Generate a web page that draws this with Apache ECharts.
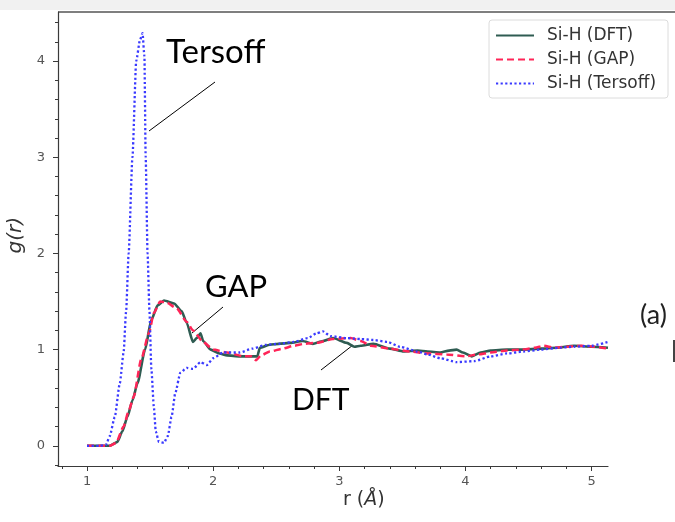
<!DOCTYPE html>
<html>
<head>
    <meta charset="UTF-8">
    <title>Si-H g(r)</title>
    <script src="https://cdn.jsdelivr.net/npm/echarts@6/dist/echarts.min.js"></script>
    <style>
        html, body { margin: 0; padding: 0; background: #fff; }
    </style>
</head>
<body>
    <div id="gr" style="width:675px; height:522px;"></div>
    <script>
        // values
        var rDft = [1.0, 1.1, 1.18, 1.24, 1.28, 1.32, 1.36, 1.40, 1.46, 1.51, 1.56, 1.61, 1.69, 1.75, 1.79, 1.84, 1.87, 1.90, 1.92, 1.98,
            2.05, 2.11, 2.21, 2.35, 2.37, 2.45, 2.52, 2.61, 2.71, 2.79, 2.87, 2.95, 3.06, 3.12, 3.17, 3.27, 3.40, 3.51, 3.62, 3.70,
            3.80, 3.87, 3.93, 3.98, 4.05, 4.12, 4.20, 4.33, 4.45, 4.60, 4.72, 4.86, 5.00, 5.13];
        var gDft = [0, 0, 0, 0.04, 0.15, 0.30, 0.47, 0.65, 1.00, 1.31, 1.46, 1.51, 1.48, 1.40, 1.28, 1.08, 1.12, 1.17, 1.09, 1.00,
            0.96, 0.94, 0.93, 0.93, 1.02, 1.05, 1.06, 1.07, 1.09, 1.06, 1.09, 1.12, 1.07, 1.03, 1.04, 1.06, 1.01, 0.98, 0.99, 0.98,
            0.97, 0.99, 1.00, 0.97, 0.93, 0.97, 0.99, 1.00, 1.00, 1.01, 1.02, 1.04, 1.03, 1.02];

        var rGap = [1.0, 1.1, 1.18, 1.23, 1.29, 1.33, 1.37, 1.43, 1.49, 1.53, 1.58, 1.63, 1.71, 1.79, 1.84, 1.92, 2.00, 2.11, 2.24, 2.30,
            2.34, 2.38, 2.45, 2.55, 2.64, 2.72, 2.82, 2.95, 3.09, 3.17, 3.25, 3.40, 3.56, 3.70, 3.85, 4.00, 4.10, 4.20, 4.33, 4.45,
            4.55, 4.62, 4.70, 4.80, 4.92, 5.02, 5.13];
        var gGap = [0, 0, 0, 0.03, 0.20, 0.36, 0.51, 0.90, 1.17, 1.38, 1.50, 1.49, 1.43, 1.29, 1.20, 1.08, 1.00, 0.97, 0.93, 0.93,
            0.89, 0.94, 0.98, 1.01, 1.04, 1.06, 1.07, 1.11, 1.12, 1.09, 1.04, 1.01, 0.98, 0.96, 0.95, 0.93, 0.95, 0.97, 0.99, 1.00,
            1.02, 1.04, 1.02, 1.03, 1.04, 1.03, 1.01];

        var rTersoff = [1.0, 1.1, 1.15, 1.18, 1.22, 1.26, 1.29, 1.31, 1.33, 1.36, 1.39, 1.42, 1.44, 1.455, 1.465, 1.48, 1.495, 1.51, 1.53, 1.545,
            1.57, 1.61, 1.64, 1.67, 1.70, 1.74, 1.79, 1.84, 1.90, 1.95, 2.00, 2.08, 2.21, 2.31, 2.42, 2.52, 2.64, 2.75, 2.82, 2.87,
            2.93, 3.06, 3.17, 3.27, 3.38, 3.48, 3.62, 3.70, 3.80, 3.93, 4.07, 4.20, 4.33, 4.46, 4.60, 4.75, 4.86, 5.00, 5.13];
        var gTersoff = [0, 0, 0.01, 0.10, 0.30, 0.65, 0.97, 1.40, 2.00, 3.00, 4.00, 4.22, 4.29, 4.05, 3.00, 2.00, 1.40, 0.80, 0.40, 0.15,
            0.04, 0.03, 0.10, 0.30, 0.55, 0.76, 0.81, 0.80, 0.87, 0.84, 0.91, 0.97, 0.97, 1.01, 1.05, 1.06, 1.08, 1.12, 1.17, 1.19,
            1.14, 1.12, 1.11, 1.10, 1.08, 1.03, 0.98, 0.95, 0.91, 0.87, 0.88, 0.93, 0.96, 0.98, 1.00, 1.02, 1.03, 1.04, 1.08];

        var xMajor = [1, 2, 3, 4, 5];
        var xMinor = [0.8, 1.2, 1.4, 1.6, 1.8, 2.2, 2.4, 2.6, 2.8, 3.2, 3.4, 3.6, 3.8, 4.2, 4.4, 4.6, 4.8];
        var yMajor = [0, 1, 2, 3, 4];
        var yMinor = [-0.2, 0.2, 0.4, 0.6, 0.8, 1.2, 1.4, 1.6, 1.8, 2.2, 2.4, 2.6, 2.8, 3.2, 3.4, 3.6, 3.8, 4.2, 4.4];

        function pairs(xs, ys) {
            return xs.map(function (x, i) { return [x, ys[i]]; });
        }

        var axisColor = '#3a3a3a';
        var tickFont = {color: '#555', fontSize: 13, fontFamily: 'DejaVu Sans'};

        var chart = echarts.init(document.getElementById('gr'), null, {renderer: 'canvas'});

        var option = {
            animation: false,
            backgroundColor: '#fff',
            grid: {left: 58, right: 67, top: 12, bottom: 56},
            legend: {
                orient: 'vertical',
                left: 489,
                top: 20,
                padding: [7, 12, 6, 6],
                itemGap: 7,
                itemWidth: 38,
                itemHeight: 17,
                backgroundColor: '#fff',
                borderColor: '#dcdcdc',
                borderWidth: 1,
                borderRadius: 3,
                itemStyle: {opacity: 0},
                textStyle: {color: '#333', fontSize: 17, fontFamily: 'DejaVu Sans', padding: [0, 0, 0, 8]},
                data: ['Si-H (DFT)', 'Si-H (GAP)', 'Si-H (Tersoff)']
            },
            xAxis: [{
                type: 'value',
                min: 0.77,
                max: 5.13,
                position: 'bottom',
                axisLine: {onZero: false, lineStyle: {color: axisColor, width: 1.2}},
                axisTick: {customValues: xMajor, length: 5, lineStyle: {color: axisColor}},
                axisLabel: Object.assign({customValues: xMajor, margin: 9}, tickFont),
                splitLine: {show: false}
            }, {
                type: 'value',
                min: 0.77,
                max: 5.13,
                position: 'bottom',
                axisLine: {show: false, onZero: false},
                axisTick: {customValues: xMinor, length: 3, lineStyle: {color: axisColor}},
                axisLabel: {show: false},
                splitLine: {show: false}
            }],
            yAxis: [{
                type: 'value',
                min: -0.21,
                max: 4.51,
                position: 'left',
                axisLine: {show: true, onZero: false, lineStyle: {color: axisColor, width: 1.2}},
                axisTick: {show: true, customValues: yMajor, length: 5, lineStyle: {color: axisColor}},
                axisLabel: Object.assign({customValues: yMajor, margin: 13}, tickFont),
                splitLine: {show: false}
            }, {
                type: 'value',
                min: -0.21,
                max: 4.51,
                position: 'left',
                axisLine: {show: false, onZero: false},
                axisTick: {show: true, customValues: yMinor, length: 3, lineStyle: {color: axisColor}},
                axisLabel: {show: false},
                splitLine: {show: false}
            }],
            series: [{
                name: 'Si-H (DFT)',
                type: 'line',
                data: pairs(rDft, gDft),
                symbol: 'none',
                smooth: 0.2,
                smoothMonotone: 'x',
                z: 3,
                lineStyle: {color: '#2f5c52', width: 2.6}
            }, {
                name: 'Si-H (GAP)',
                type: 'line',
                data: pairs(rGap, gGap),
                symbol: 'none',
                smooth: 0.2,
                smoothMonotone: 'x',
                z: 4,
                lineStyle: {color: '#ff2457', width: 2.5, type: [7, 4]}
            }, {
                name: 'Si-H (Tersoff)',
                type: 'line',
                data: pairs(rTersoff, gTersoff),
                symbol: 'none',
                smooth: 0.2,
                smoothMonotone: 'x',
                z: 5,
                lineStyle: {color: '#3a3aff', width: 2.3, type: [2.2, 2.4]}
            }],
            color: ['#2f5c52', '#ff2457', '#3a3aff'],
            graphic: [
                {type: 'rect', shape: {x: 0, y: 0, width: 675, height: 10}, style: {fill: '#f1f1f1'}, silent: true},
                {type: 'line', shape: {x1: 58, y1: 12, x2: 675, y2: 12}, style: {stroke: '#555', lineWidth: 1.5}},
                {type: 'text', left: 6, top: 217, rotation: Math.PI / 2,
                    style: {text: 'g(r)', font: 'italic 20px DejaVu Sans', fill: '#333'}},
                {type: 'text', left: 343, top: 491,
                    style: {
                        text: '{n|r (}{i|Å}{n|)}',
                        rich: {
                            n: {font: '19px DejaVu Sans', fill: '#333'},
                            i: {font: 'italic 19px DejaVu Sans', fill: '#333'}
                        }
                    }},
                {type: 'text', left: 166, top: 36, style: {text: 'Tersoff', font: '33px Lato', fill: '#000'}},
                {type: 'line', shape: {x1: 215, y1: 82, x2: 149, y2: 131}, style: {stroke: '#000', lineWidth: 1}},
                {type: 'text', left: 205, top: 271, style: {text: 'GAP', font: '31px Lato', fill: '#000'}},
                {type: 'line', shape: {x1: 223, y1: 307, x2: 192, y2: 333}, style: {stroke: '#000', lineWidth: 1}},
                {type: 'text', left: 292, top: 385, style: {text: 'DFT', font: '30px Lato', fill: '#000'}},
                {type: 'line', shape: {x1: 321, y1: 370, x2: 353, y2: 345}, style: {stroke: '#000', lineWidth: 1}},
                {type: 'text', left: 640, top: 302, style: {text: '(a)', font: '27px Lato', fill: '#222'}},
                {type: 'line', shape: {x1: 674, y1: 340, x2: 674, y2: 362}, style: {stroke: '#444', lineWidth: 2}}
            ]
        };

        chart.setOption(option);
    </script>
</body>
</html>
